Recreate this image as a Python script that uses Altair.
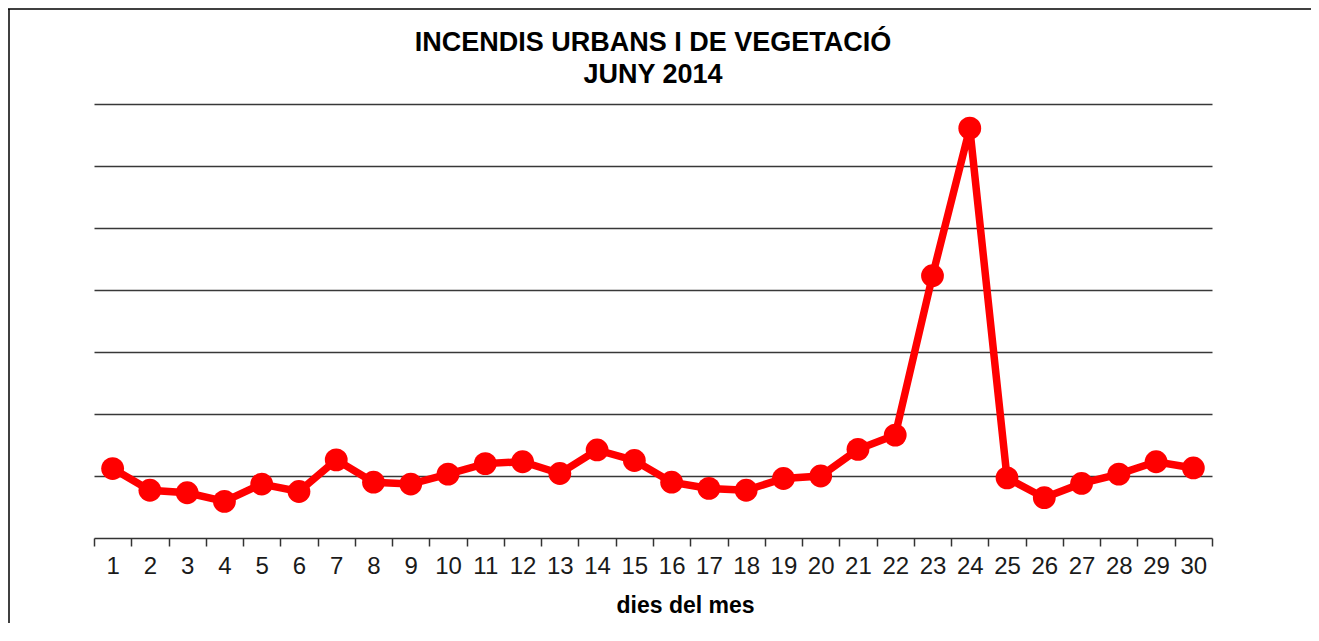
import altair as alt
import pandas as pd

dies = list(range(1, 31))
incendis = [11.2, 7.7, 7.3, 5.9, 8.7, 7.5, 12.6, 9.0, 8.7, 10.3,
            12.0, 12.3, 10.4, 14.2, 12.5, 9.0, 8.0, 7.7, 9.6, 10.0,
            14.3, 16.6, 42.3, 66.1, 9.7, 6.5, 8.8, 10.3, 12.3, 11.3]
grid_values = [10, 20, 30, 40, 50, 60, 70]

df = pd.DataFrame({"dia": dies, "valor": incendis})

FONT = "Liberation Sans"
RED = "#FF0000"

x_enc = alt.X(
    "dia:O",
    sort=dies,
    scale=alt.Scale(type="band", paddingInner=0, paddingOuter=0),
    axis=alt.Axis(
        title="dies del mes",
        labelAngle=0,
        tickBand="extent",
        tickSize=8,
        labelPadding=8,
        labelFontSize=24,
        labelFont=FONT,
        labelColor="#1a1a1a",
        domainColor="#333333",
        domainWidth=1.5,
        tickColor="#333333",
        tickWidth=1.5,
        grid=False,
        titleFont=FONT,
        titleFontSize=23,
        titleFontWeight="bold",
        titleColor="#000000",
        titleX=591,
        titleY=74,
        titleBaseline="alphabetic",
    ),
)
y_enc = alt.Y(
    "valor:Q",
    scale=alt.Scale(domain=[0, 70], nice=False, zero=True),
    axis=alt.Axis(
        title=None,
        labels=False,
        ticks=False,
        domain=False,
        grid=True,
        values=grid_values,
        gridColor="#383838",
        gridWidth=1.5,
        gridOpacity=1,
    ),
)

base = alt.Chart(df)
line = base.mark_line(color=RED, strokeWidth=7.5).encode(x=x_enc, y=y_enc)
points = base.mark_point(filled=True, color=RED, size=520, opacity=1, shape="circle").encode(x=x_enc, y=y_enc)

frame_data = alt.Data(values=[{"k": 1}])
frame_style = dict(color="#000000", strokeWidth=1.5, clip=False)
left = alt.Chart(frame_data).mark_rule(**frame_style).encode(
    x=alt.value(-85), y=alt.value(-95), y2=alt.value(560))
top = alt.Chart(frame_data).mark_rule(**frame_style).encode(
    x=alt.value(-86), x2=alt.value(1219), y=alt.value(-95))
right = alt.Chart(frame_data).mark_rule(**frame_style).encode(
    x=alt.value(1218), y=alt.value(-95), y2=alt.value(560))

chart = alt.layer(line, points, left, top, right).properties(
    width=1118,
    height=434,
    background="white",
    padding={"left": 86, "top": 96, "right": 99, "bottom": 85},
    autosize=alt.AutoSizeParams(type="none"),
    title=alt.TitleParams(
        text=["INCENDIS URBANS I DE VEGETACIÓ", "JUNY 2014"],
        font=FONT,
        fontSize=27,
        fontWeight="bold",
        color="#000000",
        anchor="middle",
        frame="group",
        baseline="bottom",
        lineHeight=32,
        offset=0,
        dy=107.5,
    ),
).configure_view(strokeOpacity=0, strokeWidth=0)

chart.save("out.html", embed_options={"renderer": "svg", "actions": False})
